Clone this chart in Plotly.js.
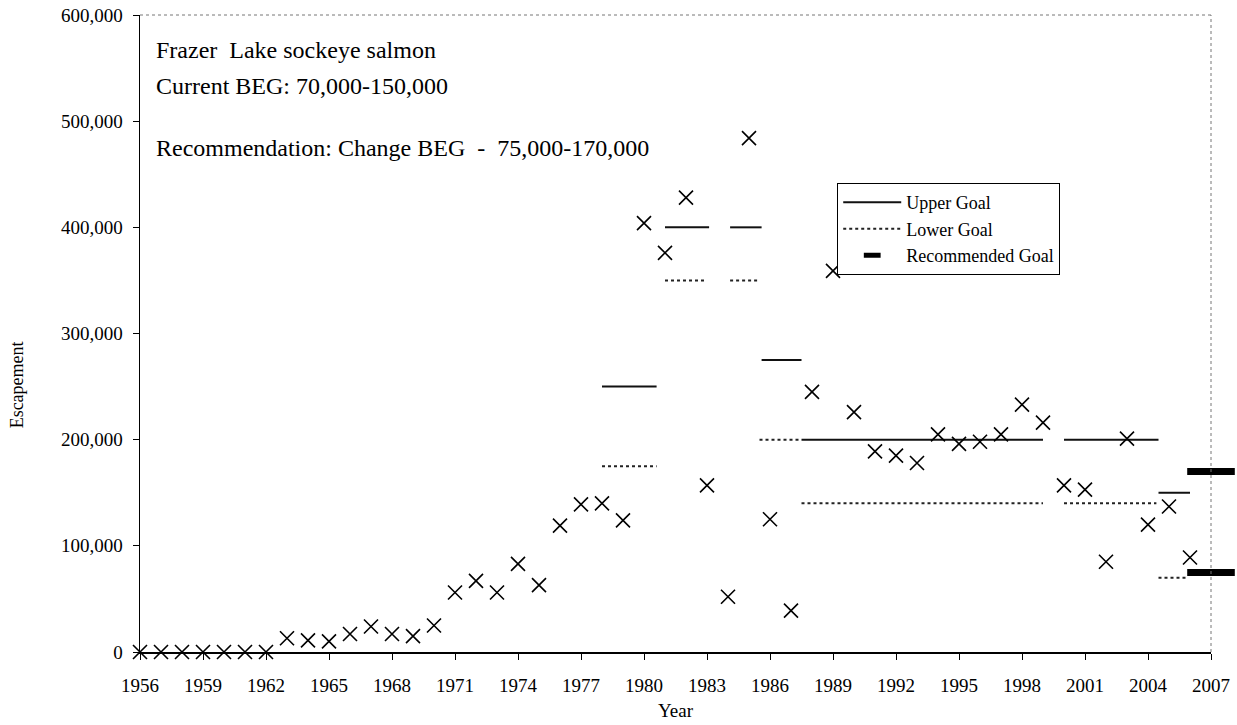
<!DOCTYPE html>
<html><head><meta charset="utf-8">
<script src="https://cdn.plot.ly/plotly-3.0.1.min.js"></script>
<style>html,body{margin:0;padding:0;background:#fff}#chart{width:1237px;height:725px}</style>
</head><body><div id="chart"></div>
<script>
// ---- data ----
const years = [1956,1957,1958,1959,1960,1961,1962,1963,1964,1965,1966,1967,1968,1969,1970,
  1971,1972,1973,1974,1975,1976,1977,1978,1979,1980,1981,1982,1983,1984,1985,1986,1987,1988,
  1989,1990,1991,1992,1993,1994,1995,1996,1997,1998,1999,2000,2001,2002,2003,2004,2005,2006];
const escapement = [0,0,0,0,0,0,0,13000,11000,10000,17000,24000,17000,15000,25000,
  56000,67000,56000,83000,63000,119000,139000,140000,124000,404000,376000,428000,157000,52000,484000,125000,39000,245000,
  359000,226000,189000,185000,178000,205000,196000,198000,205000,233000,216000,157000,153000,85000,201000,120000,137000,89000];

const upperGoalStart = [1978, 1981, 1984.1, 1985.6, 1987.5, 2000, 2004.5];
const upperGoalEnd   = [1980.6, 1983.1, 1985.6, 1987.5, 1999, 2004.5, 2006];
const upperGoalValue = [250000, 400000, 400000, 275000, 200000, 200000, 150000];

const lowerGoalStart = [1978, 1981, 1984.1, 1985.5, 1987.5, 2000, 2004.5];
const lowerGoalEnd   = [1980.6, 1983, 1985.4, 1987.4, 1999, 2004.4, 2005.8];
const lowerGoalValue = [175000, 350000, 350000, 200000, 140000, 140000, 70000];

const recGoalYear  = [2007, 2007];
const recGoalValue = [75000, 170000];

const xTickVals = [1956,1959,1962,1965,1968,1971,1974,1977,1980,1983,1986,1989,1992,1995,1998,2001,2004,2007];
const yTickVals = [0,100000,200000,300000,400000,500000,600000];
const yTickText = ['0','100,000','200,000','300,000','400,000','500,000','600,000'];

const textLines = ['Frazer  Lake sockeye salmon', 'Current BEG: 70,000-150,000', 'Recommendation: Change BEG  -  75,000-170,000'];
const yTitle = 'Escapement';
const xTitle = 'Year';

// ---- build ----
function segs(s, e, v) {
  const x = [], y = [];
  for (let i = 0; i < s.length; i++) { x.push(s[i], e[i], null); y.push(v[i], v[i], null); }
  return {x, y};
}
const up = segs(upperGoalStart, upperGoalEnd, upperGoalValue);
const lo = segs(lowerGoalStart, lowerGoalEnd, lowerGoalValue);
const FONT = 'Liberation Serif, Times New Roman, serif';

const traces = [
  {x: up.x, y: up.y, mode: 'lines', name: 'Upper Goal', legendgroup: 'a',
   line: {color: '#111', width: 2}, hoverinfo: 'skip'},
  {x: lo.x, y: lo.y, mode: 'lines', name: 'Lower Goal', legendgroup: 'b',
   line: {color: '#222', width: 2, dash: 'dot'}, hoverinfo: 'skip'},
  {x: recGoalYear, y: recGoalValue, mode: 'markers', name: 'Recommended Goal', legendgroup: 'c',
   showlegend: false, cliponaxis: false,
   marker: {symbol: 'line-ew', size: 34, color: '#000', line: {color: '#000', width: 7}}},
  // legend entry for the recommended goal (smaller sample, as in the original key)
  {x: [null], y: [null], mode: 'markers', name: 'Recommended Goal', legendgroup: 'c',
   marker: {symbol: 'line-ew', size: 12, color: '#000', line: {color: '#000', width: 5}}},
  {x: years, y: escapement, mode: 'markers', name: 'Escapement', showlegend: false,
   cliponaxis: false,
   marker: {symbol: 'x-thin-open', size: 14, color: '#000', line: {color: '#000', width: 1.6}}}
];

const annY = [0.945, 0.889, 0.791];
const annotations = textLines.map((t, i) => ({
  text: t, xref: 'paper', yref: 'paper', x: 0.013, y: annY[i], xanchor: 'left', yanchor: 'middle',
  showarrow: false, font: {family: FONT, size: 24, color: '#000'}
}));
annotations.push({text: yTitle, xref: 'paper', yref: 'paper', x: -0.114, y: 0.42,
  xanchor: 'center', yanchor: 'middle', textangle: -90, showarrow: false,
  font: {family: FONT, size: 18, color: '#000'}});

const layout = {
  width: 1237, height: 725,
  margin: {l: 140, r: 26, t: 15, b: 73},
  paper_bgcolor: '#fff', plot_bgcolor: '#fff',
  font: {family: FONT, color: '#000', size: 19},
  showlegend: true,
  legend: {x: 0.651, y: 0.736, xanchor: 'left', yanchor: 'top', bgcolor: '#fff',
    bordercolor: '#000', borderwidth: 1, tracegroupgap: 0, itemwidth: 58,
    font: {family: FONT, size: 18, color: '#000'}},
  xaxis: {range: [1956, 2007], tickmode: 'array', tickvals: xTickVals,
    ticks: 'outside', ticklen: 6, tickwidth: 1, tickcolor: '#000',
    showline: true, linecolor: '#000', linewidth: 1.5, showgrid: false, zeroline: false,
    ticklabelstandoff: 10,
    tickfont: {family: FONT, size: 19, color: '#000'},
    title: {text: xTitle, standoff: 8, font: {family: FONT, size: 19, color: '#000'}}},
  yaxis: {range: [0, 600000], tickmode: 'array', tickvals: yTickVals, ticktext: yTickText,
    ticks: 'outside', ticklen: 6, tickwidth: 1, tickcolor: '#000',
    showline: true, linecolor: '#000', linewidth: 1.5, showgrid: false, zeroline: false,
    ticklabelstandoff: 6,
    tickfont: {family: FONT, size: 19, color: '#000'}},
  shapes: [
    {type: 'line', xref: 'paper', yref: 'paper', x0: 0, x1: 1, y0: 1, y1: 1,
     line: {color: '#777', width: 1, dash: 'dot'}},
    {type: 'line', xref: 'paper', yref: 'paper', x0: 1, x1: 1, y0: 0, y1: 1,
     line: {color: '#777', width: 1, dash: 'dot'}}
  ],
  annotations: annotations
};

Plotly.newPlot('chart', traces, layout, {displayModeBar: false, staticPlot: true});
</script>
</body></html>
